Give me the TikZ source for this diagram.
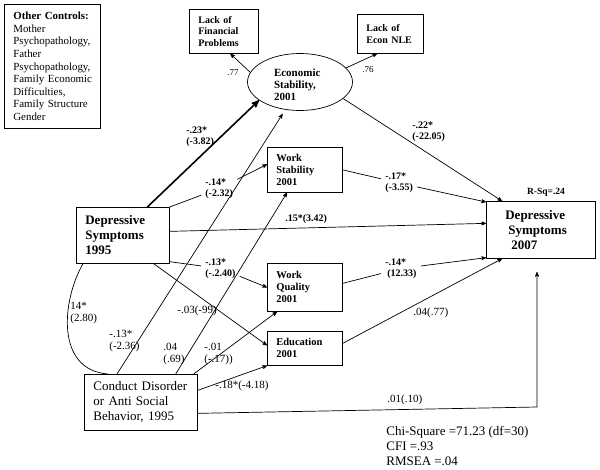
\documentclass[tikz,border=0pt]{standalone}
\usepackage{fontspec}
\setmainfont{Liberation Serif}
\usetikzlibrary{shapes.geometric}
\usepgflibrary{arrows}
\tikzstyle{arr}=[->,>=stealth']
\newcommand\bigfont{\fontsize{13}{15}\selectfont}
\newcommand\midfont{\fontsize{10.5}{12}\selectfont}
\tikzstyle{box}=[draw,line width=.7pt,anchor=north west,
  inner xsep=9pt,inner ysep=0pt,align=left]
\tikzstyle{lbl}=[font=\fontsize{11}{12.5}\selectfont,align=left,inner sep=1pt]
\tikzstyle{blbl}=[font=\fontsize{10}{11}\selectfont\bfseries,align=left,inner sep=1pt]
\tikzstyle{cutlbl}=[blbl,inner sep=4pt]

\begin{document}
\begin{tikzpicture}[x=1pt,y=-1pt,line width=.7pt]
  \useasboundingbox (0,0) rectangle (600,469);

  % boxes
  \node[box,text width=78pt,minimum height=124pt,font=\fontsize{10.9}{12.6}\selectfont] (ctrl) at (4,4)
    {\textbf{Other Controls:}\\Mother\\\mbox{Psychopathology,}\\Father\\\mbox{Psychopathology,}\\\mbox{Family Economic}\\Difficulties,\\\mbox{Family Structure}\\Gender};
  \node[box,text width=51pt,minimum height=44pt,font=\fontsize{10}{11.5}\selectfont\bfseries] (lfp) at (189,9)
    {Lack of\\Financial\\Problems};
  \node[box,text width=48pt,minimum height=39pt,font=\fontsize{10}{11.5}\selectfont\bfseries] (lnle) at (357,14)
    {Lack of\\\mbox{Econ NLE}};
  \node[draw,ellipse,minimum width=105pt,minimum height=57pt,inner sep=0pt,text width=52pt,align=left,
    font=\fontsize{11}{12}\selectfont\bfseries] (econ) at (300,82) {\rule{0pt}{14pt}Economic\\Stability,\\2001};
  \node[box,text width=57pt,minimum height=45pt,font=\midfont\bfseries] (ws) at (267,147) {Work\\Stability\\2001};
  \node[box,text width=57pt,minimum height=48pt,font=\midfont\bfseries] (wq) at (267,263) {Work\\Quality\\2001};
  \node[box,text width=57pt,minimum height=34pt,font=\midfont\bfseries] (edu) at (267,331) {Education\\2001};
  \node[box,text width=75pt,minimum height=56pt,font=\bigfont\bfseries] (dep95) at (76,207) {Depressive\\Symptoms\\1995};
  \node[box,text width=91pt,minimum height=57pt,font=\bigfont\bfseries] (dep07) at (486,201)
    {\hspace*{10pt}Depressive\\\hspace*{13pt}Symptoms\\\hspace*{16pt}2007};
  \node[box,text width=95pt,minimum height=56pt,font=\bigfont] (cd) at (84,374)
    {\mbox{Conduct Disorder}\\\mbox{or Anti Social}\\\mbox{Behavior, 1995}};
  \coordinate (cdbend) at (537,407);
  \coordinate (dep07in) at (537,272);

  % labels that cut the paths
  \node[cutlbl,anchor=west] (l14) at (201,188.5) {-.14*\\(-2.32)};
  \node[cutlbl,anchor=west] (l13) at (201,268.5) {-.13*\\(-.2.40)};
  \node[cutlbl,anchor=west] (l17) at (381,183) {-.17*\\(-3.55)};
  \node[cutlbl,anchor=west] (l14b) at (381,268.5) {-.14*\\\hspace*{2pt}(12.33)};

  % other labels
  \node[blbl,anchor=west] (l23) at (185,136.5) {-.23*\\(-3.82)};
  \node[blbl,anchor=west] (l22) at (411,132) {-.22*\\(-22.05)};
  \node[blbl,anchor=west] (l15) at (284,219) {.15*(3.42)};
  \node[blbl,font=\fontsize{9.5}{11}\selectfont\bfseries] (rsq) at (546,192) {R-Sq=.24};
  \node[lbl,font=\fontsize{9}{10}\selectfont,anchor=west] (l77) at (226,73) {.77};
  \node[lbl,font=\fontsize{9}{10}\selectfont,anchor=west] (l76) at (361,70) {.76};
  \foreach \n/\x/\y/\t in {lcor/69/313/{14*\\(2.80)}, l13b/108/341/{-.13*\\(-2.36)},
      l04/162/354/{.04\\(.69)}, l01/203/354/{-.01\\(-.17))}, l03/176/311/{-.03(-99)},
      l18/214/386/{-.18*(-4.18)}, l04b/412/313/{.04(.77)}, l01b/386/400/{.01(.10)}}
    \node[lbl,anchor=west] (\n) at (\x,\y) {\t};
  \node[lbl,font=\bigfont,anchor=west] (fit) at (385,446)
    {Chi-Square =71.23 (df=30)\\CFI =.93\\RMSEA =.04};

  % paths
  \draw[arr,line width=1.6pt] ([xshift=24.5pt]dep95.north) -- (econ.204);
  \draw[arr] (dep95.north east) -- (l14) -- ([yshift=5.5pt]ws.west);
  \draw[arr] ([yshift=2pt]dep95.south east) -- (l13) -- (wq.west);
  \draw[arr] ([yshift=4pt]dep95.east) -- ([yshift=6.5pt]dep07.west);
  \draw[arr] ([xshift=-16pt]dep95.south east) -- ([yshift=3pt]edu.west);
  \draw[arr] (ws.east) -- (l17) -- ([yshift=-1pt]dep07.north west);
  \draw[arr] ([yshift=4pt]wq.east) -- (l14b) -- ([yshift=1pt]dep07.south west);
  \draw[arr] ([yshift=5pt]edu.east) -- ([xshift=16pt]dep07.south west);
  \draw[arr] (econ.339) -- ([xshift=16pt]dep07.north west);
  \draw[arr] (econ.169) -- ([xshift=6.5pt]lfp.south);
  \draw[arr] (econ.17) -- ([xshift=20pt]lnle.south west);
  \draw[arr,shorten >=5pt] ([xshift=33pt]cd.north west) -- (econ.242);
  \draw[arr] ([xshift=-22pt]cd.north east) -- ([xshift=20pt]ws.south west);
  \draw[arr] ([xshift=-4pt]cd.north east) -- ([xshift=10pt]wq.south west);
  \draw[arr] ([yshift=12pt]cd.east) -- (edu.south west);
  \draw[arr] ([yshift=-11pt]cd.east) -- (cdbend) -- (dep07in);
  \draw ([xshift=7pt]dep95.south west) .. controls (62,300) and (55,370) .. ([xshift=24pt]cd.north west);
\end{tikzpicture}
\end{document}
